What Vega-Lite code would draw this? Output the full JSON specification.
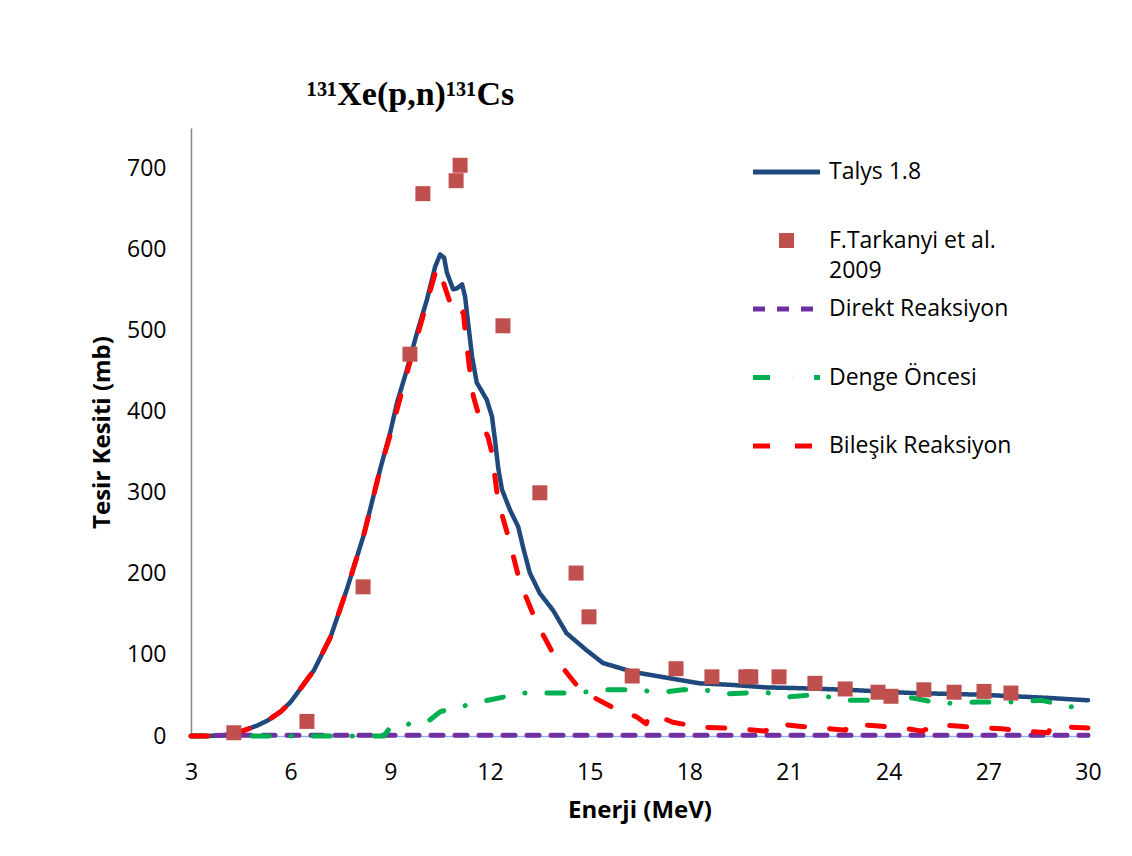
{
  "$schema": "https://vega.github.io/schema/vega-lite/v6.json",
  "width": 897,
  "height": 608,
  "autosize": {"type": "none"},
  "padding": {"left": 191, "top": 128, "right": 44, "bottom": 120},
  "background": "white",
  "title": {"text": "¹³¹Xe(p,n)¹³¹Cs", "font": "Liberation Serif", "fontWeight": "bold", "fontSize": 34, "color": "#000000", "anchor": "middle", "dx": -229, "baseline": "alphabetic", "offset": -11},
  "config": {
    "view": {"stroke": null},
    "font": "Open Sans",
    "style": {"guide-label": {"lineHeight": 30}},
    "axis": {"ticks": false, "grid": false, "labelFont": "Open Sans", "labelFontSize": 23, "labelColor": "#000000", "titleFont": "Open Sans", "titleFontSize": 24, "titleFontWeight": "bold", "titleColor": "#000000", "labelOverlap": false, "labelFlush": false}
  },
  "datasets": {
    "all": [
      {"s": "Talys 1.8", "E": 3, "v": 0}, {"s": "Talys 1.8", "E": 3.5, "v": 0}, {"s": "Talys 1.8", "E": 4, "v": 1}, {"s": "Talys 1.8", "E": 4.3, "v": 3}, {"s": "Talys 1.8", "E": 4.6, "v": 7}, {"s": "Talys 1.8", "E": 5, "v": 13}, {"s": "Talys 1.8", "E": 5.3, "v": 19}, {"s": "Talys 1.8", "E": 5.7, "v": 30}, {"s": "Talys 1.8", "E": 6, "v": 42}, {"s": "Talys 1.8", "E": 6.2, "v": 53}, {"s": "Talys 1.8", "E": 6.7, "v": 81}, {"s": "Talys 1.8", "E": 7.2, "v": 122}, {"s": "Talys 1.8", "E": 7.7, "v": 182}, {"s": "Talys 1.8", "E": 8.2, "v": 248}, {"s": "Talys 1.8", "E": 8.7, "v": 330}, {"s": "Talys 1.8", "E": 9, "v": 375}, {"s": "Talys 1.8", "E": 9.2, "v": 411}, {"s": "Talys 1.8", "E": 9.5, "v": 452}, {"s": "Talys 1.8", "E": 9.8, "v": 497}, {"s": "Talys 1.8", "E": 10.1, "v": 538}, {"s": "Talys 1.8", "E": 10.35, "v": 579}, {"s": "Talys 1.8", "E": 10.5, "v": 594}, {"s": "Talys 1.8", "E": 10.62, "v": 590}, {"s": "Talys 1.8", "E": 10.7, "v": 572}, {"s": "Talys 1.8", "E": 10.89, "v": 551}, {"s": "Talys 1.8", "E": 11.0, "v": 552}, {"s": "Talys 1.8", "E": 11.16, "v": 557}, {"s": "Talys 1.8", "E": 11.25, "v": 542}, {"s": "Talys 1.8", "E": 11.34, "v": 510}, {"s": "Talys 1.8", "E": 11.46, "v": 468}, {"s": "Talys 1.8", "E": 11.6, "v": 436}, {"s": "Talys 1.8", "E": 11.9, "v": 415}, {"s": "Talys 1.8", "E": 12.06, "v": 394}, {"s": "Talys 1.8", "E": 12.15, "v": 365}, {"s": "Talys 1.8", "E": 12.25, "v": 330}, {"s": "Talys 1.8", "E": 12.36, "v": 304}, {"s": "Talys 1.8", "E": 12.6, "v": 279}, {"s": "Talys 1.8", "E": 12.85, "v": 258}, {"s": "Talys 1.8", "E": 13.0, "v": 232}, {"s": "Talys 1.8", "E": 13.2, "v": 201}, {"s": "Talys 1.8", "E": 13.5, "v": 176}, {"s": "Talys 1.8", "E": 13.9, "v": 155}, {"s": "Talys 1.8", "E": 14.3, "v": 127}, {"s": "Talys 1.8", "E": 14.9, "v": 106}, {"s": "Talys 1.8", "E": 15.4, "v": 90}, {"s": "Talys 1.8", "E": 16.3, "v": 79}, {"s": "Talys 1.8", "E": 17.3, "v": 72}, {"s": "Talys 1.8", "E": 18.3, "v": 65}, {"s": "Talys 1.8", "E": 19.3, "v": 63}, {"s": "Talys 1.8", "E": 20.3, "v": 60}, {"s": "Talys 1.8", "E": 21.3, "v": 59}, {"s": "Talys 1.8", "E": 22.75, "v": 57}, {"s": "Talys 1.8", "E": 24.7, "v": 53}, {"s": "Talys 1.8", "E": 26.75, "v": 51}, {"s": "Talys 1.8", "E": 28.8, "v": 47}, {"s": "Talys 1.8", "E": 30, "v": 44},

      {"s": "Direkt Reaksiyon", "E": 3, "v": 0}, {"s": "Direkt Reaksiyon", "E": 4, "v": 1}, {"s": "Direkt Reaksiyon", "E": 8, "v": 1}, {"s": "Direkt Reaksiyon", "E": 12, "v": 1}, {"s": "Direkt Reaksiyon", "E": 16, "v": 1}, {"s": "Direkt Reaksiyon", "E": 20, "v": 1}, {"s": "Direkt Reaksiyon", "E": 24, "v": 1}, {"s": "Direkt Reaksiyon", "E": 28, "v": 1}, {"s": "Direkt Reaksiyon", "E": 30, "v": 1},

      {"s": "Denge Öncesi", "E": 3, "v": 0}, {"s": "Denge Öncesi", "E": 8.8, "v": 0}, {"s": "Denge Öncesi", "E": 8.9, "v": 5}, {"s": "Denge Öncesi", "E": 9.0, "v": 11}, {"s": "Denge Öncesi", "E": 9.4, "v": 14}, {"s": "Denge Öncesi", "E": 10.1, "v": 17}, {"s": "Denge Öncesi", "E": 10.5, "v": 30}, {"s": "Denge Öncesi", "E": 11.1, "v": 36}, {"s": "Denge Öncesi", "E": 11.7, "v": 42}, {"s": "Denge Öncesi", "E": 12.4, "v": 48}, {"s": "Denge Öncesi", "E": 12.9, "v": 53}, {"s": "Denge Öncesi", "E": 13.6, "v": 53}, {"s": "Denge Öncesi", "E": 14.3, "v": 53}, {"s": "Denge Öncesi", "E": 14.8, "v": 54}, {"s": "Denge Öncesi", "E": 15.4, "v": 57}, {"s": "Denge Öncesi", "E": 16.3, "v": 57}, {"s": "Denge Öncesi", "E": 17.2, "v": 54}, {"s": "Denge Öncesi", "E": 17.8, "v": 57}, {"s": "Denge Öncesi", "E": 18.3, "v": 58}, {"s": "Denge Öncesi", "E": 19.1, "v": 52}, {"s": "Denge Öncesi", "E": 20.3, "v": 54}, {"s": "Denge Öncesi", "E": 20.9, "v": 48}, {"s": "Denge Öncesi", "E": 21.8, "v": 51}, {"s": "Denge Öncesi", "E": 22.8, "v": 44}, {"s": "Denge Öncesi", "E": 23.65, "v": 44}, {"s": "Denge Öncesi", "E": 24.7, "v": 47}, {"s": "Denge Öncesi", "E": 25.6, "v": 40}, {"s": "Denge Öncesi", "E": 26.7, "v": 42}, {"s": "Denge Öncesi", "E": 27.65, "v": 42}, {"s": "Denge Öncesi", "E": 28.6, "v": 44}, {"s": "Denge Öncesi", "E": 29.5, "v": 36}, {"s": "Denge Öncesi", "E": 30, "v": 37},

      {"s": "Bileşik Reaksiyon", "E": 3, "v": 0}, {"s": "Bileşik Reaksiyon", "E": 3.5, "v": 0}, {"s": "Bileşik Reaksiyon", "E": 4, "v": 1}, {"s": "Bileşik Reaksiyon", "E": 4.3, "v": 3}, {"s": "Bileşik Reaksiyon", "E": 4.6, "v": 7}, {"s": "Bileşik Reaksiyon", "E": 5, "v": 13}, {"s": "Bileşik Reaksiyon", "E": 5.3, "v": 19}, {"s": "Bileşik Reaksiyon", "E": 5.7, "v": 30}, {"s": "Bileşik Reaksiyon", "E": 6, "v": 42}, {"s": "Bileşik Reaksiyon", "E": 6.2, "v": 53}, {"s": "Bileşik Reaksiyon", "E": 6.7, "v": 81}, {"s": "Bileşik Reaksiyon", "E": 7.2, "v": 122}, {"s": "Bileşik Reaksiyon", "E": 7.7, "v": 182}, {"s": "Bileşik Reaksiyon", "E": 8.2, "v": 248}, {"s": "Bileşik Reaksiyon", "E": 8.7, "v": 330}, {"s": "Bileşik Reaksiyon", "E": 9, "v": 372}, {"s": "Bileşik Reaksiyon", "E": 9.5, "v": 448}, {"s": "Bileşik Reaksiyon", "E": 10.1, "v": 535}, {"s": "Bileşik Reaksiyon", "E": 10.4, "v": 578}, {"s": "Bileşik Reaksiyon", "E": 10.6, "v": 559}, {"s": "Bileşik Reaksiyon", "E": 10.9, "v": 522}, {"s": "Bileşik Reaksiyon", "E": 11.05, "v": 518}, {"s": "Bileşik Reaksiyon", "E": 11.2, "v": 523}, {"s": "Bileşik Reaksiyon", "E": 11.25, "v": 500}, {"s": "Bileşik Reaksiyon", "E": 11.4, "v": 448}, {"s": "Bileşik Reaksiyon", "E": 11.5, "v": 419}, {"s": "Bileşik Reaksiyon", "E": 11.7, "v": 390}, {"s": "Bileşik Reaksiyon", "E": 11.94, "v": 369}, {"s": "Bileşik Reaksiyon", "E": 12.06, "v": 349}, {"s": "Bileşik Reaksiyon", "E": 12.24, "v": 290}, {"s": "Bileşik Reaksiyon", "E": 12.5, "v": 253}, {"s": "Bileşik Reaksiyon", "E": 12.7, "v": 222}, {"s": "Bileşik Reaksiyon", "E": 12.9, "v": 190}, {"s": "Bileşik Reaksiyon", "E": 13.4, "v": 140}, {"s": "Bileşik Reaksiyon", "E": 14.0, "v": 94}, {"s": "Bileşik Reaksiyon", "E": 14.6, "v": 63}, {"s": "Bileşik Reaksiyon", "E": 15.1, "v": 48}, {"s": "Bileşik Reaksiyon", "E": 15.8, "v": 33}, {"s": "Bileşik Reaksiyon", "E": 16.4, "v": 24}, {"s": "Bileşik Reaksiyon", "E": 16.7, "v": 15}, {"s": "Bileşik Reaksiyon", "E": 16.8, "v": 26}, {"s": "Bileşik Reaksiyon", "E": 17.2, "v": 22}, {"s": "Bileşik Reaksiyon", "E": 17.5, "v": 17}, {"s": "Bileşik Reaksiyon", "E": 18.3, "v": 11}, {"s": "Bileşik Reaksiyon", "E": 19.5, "v": 9}, {"s": "Bileşik Reaksiyon", "E": 20.3, "v": 6}, {"s": "Bileşik Reaksiyon", "E": 20.5, "v": 16}, {"s": "Bileşik Reaksiyon", "E": 21.3, "v": 12}, {"s": "Bileşik Reaksiyon", "E": 22.0, "v": 10}, {"s": "Bileşik Reaksiyon", "E": 22.7, "v": 7}, {"s": "Bileşik Reaksiyon", "E": 22.8, "v": 15}, {"s": "Bileşik Reaksiyon", "E": 23.5, "v": 13}, {"s": "Bileşik Reaksiyon", "E": 24.4, "v": 10}, {"s": "Bileşik Reaksiyon", "E": 25.0, "v": 6}, {"s": "Bileşik Reaksiyon", "E": 25.45, "v": 14}, {"s": "Bileşik Reaksiyon", "E": 26.5, "v": 11}, {"s": "Bileşik Reaksiyon", "E": 27.4, "v": 9}, {"s": "Bileşik Reaksiyon", "E": 28.0, "v": 6}, {"s": "Bileşik Reaksiyon", "E": 28.8, "v": 4}, {"s": "Bileşik Reaksiyon", "E": 28.9, "v": 12}, {"s": "Bileşik Reaksiyon", "E": 30, "v": 10},

      {"s": "F.Tarkanyi et al. 2009", "E": 4.29, "v": 4}, {"s": "F.Tarkanyi et al. 2009", "E": 6.49, "v": 18}, {"s": "F.Tarkanyi et al. 2009", "E": 8.18, "v": 184}, {"s": "F.Tarkanyi et al. 2009", "E": 9.59, "v": 471}, {"s": "F.Tarkanyi et al. 2009", "E": 9.98, "v": 669}, {"s": "F.Tarkanyi et al. 2009", "E": 10.98, "v": 685}, {"s": "F.Tarkanyi et al. 2009", "E": 11.1, "v": 704}, {"s": "F.Tarkanyi et al. 2009", "E": 12.39, "v": 506}, {"s": "F.Tarkanyi et al. 2009", "E": 13.5, "v": 300}, {"s": "F.Tarkanyi et al. 2009", "E": 14.59, "v": 201}, {"s": "F.Tarkanyi et al. 2009", "E": 14.98, "v": 147}, {"s": "F.Tarkanyi et al. 2009", "E": 16.28, "v": 74}, {"s": "F.Tarkanyi et al. 2009", "E": 17.6, "v": 83}, {"s": "F.Tarkanyi et al. 2009", "E": 18.68, "v": 73}, {"s": "F.Tarkanyi et al. 2009", "E": 19.7, "v": 73}, {"s": "F.Tarkanyi et al. 2009", "E": 19.85, "v": 73}, {"s": "F.Tarkanyi et al. 2009", "E": 20.7, "v": 73}, {"s": "F.Tarkanyi et al. 2009", "E": 21.78, "v": 65}, {"s": "F.Tarkanyi et al. 2009", "E": 22.69, "v": 58}, {"s": "F.Tarkanyi et al. 2009", "E": 23.68, "v": 54}, {"s": "F.Tarkanyi et al. 2009", "E": 24.07, "v": 49}, {"s": "F.Tarkanyi et al. 2009", "E": 25.06, "v": 57}, {"s": "F.Tarkanyi et al. 2009", "E": 25.97, "v": 54}, {"s": "F.Tarkanyi et al. 2009", "E": 26.87, "v": 55}, {"s": "F.Tarkanyi et al. 2009", "E": 27.68, "v": 53}
    ]
  },
  "data": {"name": "all"},
  "encoding": {
    "x": {"field": "E", "type": "quantitative", "scale": {"domain": [3, 30], "nice": false, "zero": false},
      "axis": {"values": [3, 6, 9, 12, 15, 18, 21, 24, 27, 30], "title": "Enerji (MeV)", "domainColor": "#8EB4E3", "domainWidth": 1.5, "labelPadding": 25, "titlePadding": 14}},
    "y": {"field": "v", "type": "quantitative", "scale": {"domain": [0, 750], "nice": false},
      "axis": {"values": [0, 100, 200, 300, 400, 500, 600, 700], "title": "Tesir Kesiti (mb)", "domainColor": "#868686", "domainWidth": 1.5, "labelPadding": 25, "titlePadding": 12}},
    "color": {"field": "s", "type": "nominal",
      "scale": {"domain": ["Talys 1.8", "F.Tarkanyi et al. 2009", "Direkt Reaksiyon", "Denge Öncesi", "Bileşik Reaksiyon"], "range": ["#1F497D", "#C0504D", "#7030A0", "#00B050", "#FF0000"]},
      "legend": {"title": null, "orient": "none", "legendX": 562, "legendY": 24.5, "padding": 0, "symbolType": "stroke", "symbolSize": 1122, "symbolStrokeWidth": 5, "symbolOpacity": 1, "symbolOffset": 14, "labelFont": "Open Sans", "labelFontSize": 23, "labelColor": "#000000", "labelOffset": 23, "labelLimit": 400, "rowPadding": 6.5, "labelExpr": "datum.label == 'F.Tarkanyi et al. 2009' ? ['F.Tarkanyi et al.', '2009'] : [datum.label, '']"}
    }
  },
  "layer": [
    {"transform": [{"filter": "datum.s == 'Talys 1.8'"}], "mark": {"type": "line", "strokeWidth": 4.5, "strokeJoin": "round", "strokeCap": "round"},
      "encoding": {"strokeDash": {"field": "s", "type": "nominal", "scale": {"domain": ["Talys 1.8", "F.Tarkanyi et al. 2009", "Direkt Reaksiyon", "Denge Öncesi", "Bileşik Reaksiyon"], "range": [[1, 0], [1, 0], [12, 12], [17, 22, 0.1, 22], [17, 25]]},
        "legend": {"title": null, "orient": "none", "legendX": 562, "legendY": 24.5, "padding": 0, "symbolType": "stroke", "symbolSize": 1122, "symbolStrokeWidth": 5, "symbolOpacity": 1, "symbolOffset": 14, "labelFont": "Open Sans", "labelFontSize": 23, "labelColor": "#000000", "labelOffset": 23, "labelLimit": 400, "rowPadding": 6.5, "labelExpr": "datum.label == 'F.Tarkanyi et al. 2009' ? ['F.Tarkanyi et al.', '2009'] : [datum.label, '']"}}}},
    {"transform": [{"filter": "datum.s == 'Direkt Reaksiyon'"}], "mark": {"type": "line", "strokeWidth": 5, "strokeCap": "round"},
      "encoding": {"strokeDash": {"field": "s", "type": "nominal", "scale": {"domain": ["Talys 1.8", "F.Tarkanyi et al. 2009", "Direkt Reaksiyon", "Denge Öncesi", "Bileşik Reaksiyon"], "range": [[1, 0], [1, 0], [12, 12], [17, 22, 0.1, 22], [17, 25]]},
        "legend": {"title": null, "orient": "none", "legendX": 562, "legendY": 24.5, "padding": 0, "symbolType": "stroke", "symbolSize": 1122, "symbolStrokeWidth": 5, "symbolOpacity": 1, "symbolOffset": 14, "labelFont": "Open Sans", "labelFontSize": 23, "labelColor": "#000000", "labelOffset": 23, "labelLimit": 400, "rowPadding": 6.5, "labelExpr": "datum.label == 'F.Tarkanyi et al. 2009' ? ['F.Tarkanyi et al.', '2009'] : [datum.label, '']"}}}},
    {"transform": [{"filter": "datum.s == 'Denge Öncesi'"}], "mark": {"type": "line", "strokeWidth": 5, "strokeCap": "round"},
      "encoding": {"strokeDash": {"field": "s", "type": "nominal", "scale": {"domain": ["Talys 1.8", "F.Tarkanyi et al. 2009", "Direkt Reaksiyon", "Denge Öncesi", "Bileşik Reaksiyon"], "range": [[1, 0], [1, 0], [12, 12], [17, 22, 0.1, 22], [17, 25]]},
        "legend": {"title": null, "orient": "none", "legendX": 562, "legendY": 24.5, "padding": 0, "symbolType": "stroke", "symbolSize": 1122, "symbolStrokeWidth": 5, "symbolOpacity": 1, "symbolOffset": 14, "labelFont": "Open Sans", "labelFontSize": 23, "labelColor": "#000000", "labelOffset": 23, "labelLimit": 400, "rowPadding": 6.5, "labelExpr": "datum.label == 'F.Tarkanyi et al. 2009' ? ['F.Tarkanyi et al.', '2009'] : [datum.label, '']"}}}},
    {"transform": [{"filter": "datum.s == 'Bileşik Reaksiyon'"}], "mark": {"type": "line", "strokeWidth": 5, "strokeCap": "round", "strokeJoin": "round"},
      "encoding": {"strokeDash": {"field": "s", "type": "nominal", "scale": {"domain": ["Talys 1.8", "F.Tarkanyi et al. 2009", "Direkt Reaksiyon", "Denge Öncesi", "Bileşik Reaksiyon"], "range": [[1, 0], [1, 0], [12, 12], [17, 22, 0.1, 22], [17, 25]]},
        "legend": {"title": null, "orient": "none", "legendX": 562, "legendY": 24.5, "padding": 0, "symbolType": "stroke", "symbolSize": 1122, "symbolStrokeWidth": 5, "symbolOpacity": 1, "symbolOffset": 14, "labelFont": "Open Sans", "labelFontSize": 23, "labelColor": "#000000", "labelOffset": 23, "labelLimit": 400, "rowPadding": 6.5, "labelExpr": "datum.label == 'F.Tarkanyi et al. 2009' ? ['F.Tarkanyi et al.', '2009'] : [datum.label, '']"}}}},
    {"transform": [{"filter": "datum.s == 'F.Tarkanyi et al. 2009'"}], "mark": {"type": "point", "filled": true, "size": 2500, "opacity": 1},
      "encoding": {"shape": {"field": "s", "type": "nominal", "scale": {"domain": ["Talys 1.8", "F.Tarkanyi et al. 2009", "Direkt Reaksiyon", "Denge Öncesi", "Bileşik Reaksiyon"], "range": ["M-2,0H2", "M-0.3,-0.3H0.3V0.3H-0.3Z", "M-2,0H2", "M-2,0H2", "M-2,0H2"]},
        "legend": {"title": null, "orient": "none", "legendX": 562, "legendY": 24.5, "padding": 0, "symbolType": "stroke", "symbolSize": 1122, "symbolStrokeWidth": 5, "symbolOpacity": 1, "symbolOffset": 14, "labelFont": "Open Sans", "labelFontSize": 23, "labelColor": "#000000", "labelOffset": 23, "labelLimit": 400, "rowPadding": 6.5, "labelExpr": "datum.label == 'F.Tarkanyi et al. 2009' ? ['F.Tarkanyi et al.', '2009'] : [datum.label, '']"}}}}
  ]
}
